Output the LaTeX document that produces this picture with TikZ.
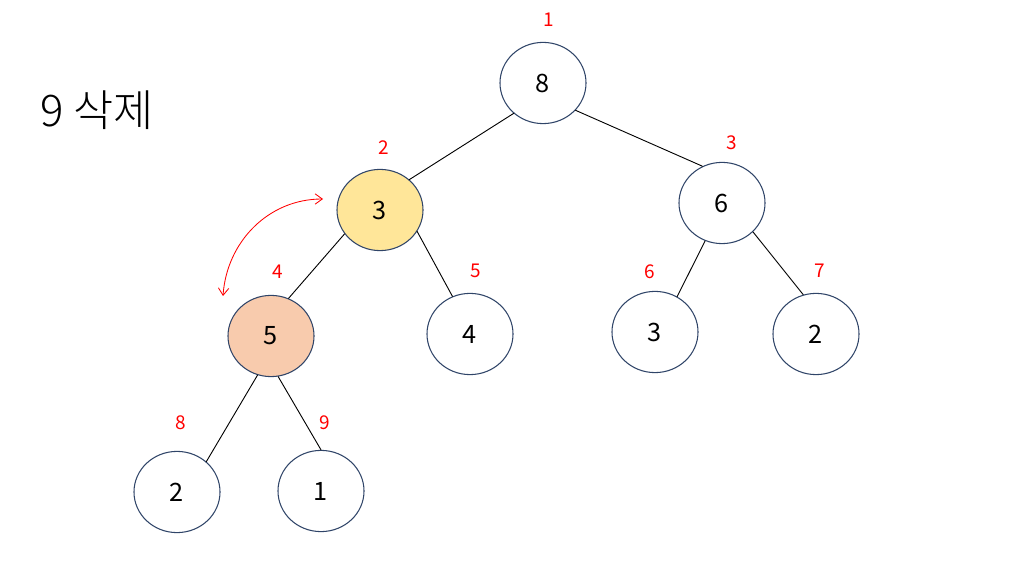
\documentclass[tikz,border=0pt]{standalone}
\usepackage{fontspec}
\newfontfamily\krfont{Noto Sans CJK KR}
\newfontfamily\krlight{Noto Sans CJK KR}[UprightFont={* Light}]
\usetikzlibrary{arrows.meta,shapes.geometric}
\definecolor{vien}{HTML}{2F4468}
\definecolor{vang}{HTML}{FFE699}
\definecolor{cam}{HTML}{F8CBAD}

\begin{document}
\begin{tikzpicture}[x=0.025cm,y=-0.025cm,line join=round,line cap=round,
	nut/.style={ellipse,draw=vien,line width=0.75pt,minimum width=2.15cm,minimum height=2.03cm,inner sep=0pt,font=\krfont\fontsize{18}{18}\selectfont},
	so/.style={text=red,font=\krfont\fontsize{13.5}{14}\selectfont},
	canh/.style={draw,line width=0.65pt}]
	\useasboundingbox (0,0) rectangle (1012,563);
	% tieu de
	\node[font=\krlight\fontsize{31}{31}\selectfont] (tieude) at (97,110) {9 삭제};
	% cac nut
	\node[nut] (n1) at (543,83) {8};
	\node[nut,fill=vang] (n2) at (380,210) {3};
	\node[nut] (n3) at (722,203) {6};
	\node[nut,fill=cam] (n4) at (271,336) {5};
	\node[nut] (n5) at (470,334) {4};
	\node[nut] (n6) at (655,332) {3};
	\node[nut] (n7) at (816,334) {2};
	\node[nut] (n8) at (177,492) {2};
	\node[nut] (n9) at (321,491) {1};
	% chi so
	\node[so] (s1) at (549,20) {1};
	\node[so] (s2) at (384,148) {2};
	\node[so] (s3) at (732,143) {3};
	\node[so] (s4) at (278,272) {4};
	\node[so] (s5) at (476,271) {5};
	\node[so] (s6) at (650,272) {6};
	\node[so] (s7) at (820,271) {7};
	\node[so] (s8) at (181,423) {8};
	\node[so] (s9) at (325,423) {9};
	% canh
	\draw[canh] (n1.-134)--(n2.46) (n1.-40)--(n3.118)
		(n2.-146)--(n4.65) (n2.-30)--(n5.115)
		(n3.-114)--(n6.58) (n3.-43)--(n7.108)
		(n4.-109)--(n8.46) (n4.-80)--(n9.90);
	% doi cho
	\coordinate (A) at (223,296);
	\coordinate (B) at (323,199);
	\draw[red,line width=0.6pt,{Straight Barb[length=1.8mm,width=2.6mm]}-{Straight Barb[length=1.8mm,width=2.6mm]}]
		(A) to[out=86,in=180] (B);
\end{tikzpicture}
\end{document}
